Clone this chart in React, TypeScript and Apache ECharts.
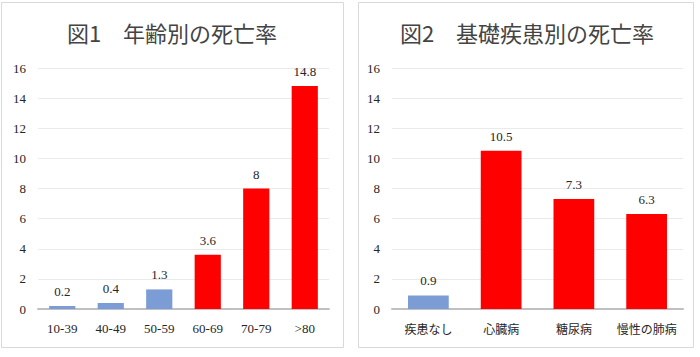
import React, { useEffect, useRef } from "react";
import * as echarts from "echarts";

const ageCategories = ["10-39", "40-49", "50-59", "60-69", "70-79", ">80"];
const ageValues = [0.2, 0.4, 1.3, 3.6, 8, 14.8];
const ageColors = ["#7C9CD5", "#7C9CD5", "#7C9CD5", "#FF0000", "#FF0000", "#FF0000"];

const diseaseCategories = ["疾患なし", "心臓病", "糖尿病", "慢性の肺病"];
const diseaseValues = [0.9, 10.5, 7.3, 6.3];
const diseaseColors = ["#7C9CD5", "#FF0000", "#FF0000", "#FF0000"];

const title1 = "図1　年齢別の死亡率";
const title2 = "図2　基礎疾患別の死亡率";

const SERIF = "Liberation Serif";
const JP = "Noto Sans CJK JP";

export default function App() {
  const ref = useRef<HTMLDivElement>(null);
  useEffect(() => {
    document.body.style.margin = "0";
    const chart = echarts.init(ref.current!, undefined, { renderer: "svg" });
    const yAxisCommon = {
      type: "value" as const,
      min: 0,
      max: 16,
      interval: 2,
      axisLine: { show: false },
      axisTick: { show: false },
      splitLine: { lineStyle: { color: "#EAEAEA", width: 1 } },
      axisLabel: { fontFamily: SERIF, fontSize: 13, color: "#262626", margin: 12 },
    };
    const xAxisCommon = {
      type: "category" as const,
      axisTick: { show: false },
      axisLine: { lineStyle: { color: "#C0C0C0", width: 2 } },
    };
    const labelCommon = {
      show: true,
      position: "top" as const,
      distance: 8,
      fontFamily: SERIF,
      fontSize: 13,
      color: "#262626",
    };
    chart.setOption({
      animation: false,
      graphic: [
        {
          type: "rect",
          shape: { x: 1.5, y: 2.5, width: 342, height: 345 },
          style: { fill: "none", stroke: "#D9D9D9", lineWidth: 1 },
        },
        {
          type: "rect",
          shape: { x: 358.5, y: 2.5, width: 335, height: 345 },
          style: { fill: "none", stroke: "#D9D9D9", lineWidth: 1 },
        },
        {
          type: "text",
          x: 172,
          y: 32,
          style: {
            text: title1,
            fontFamily: JP,
            fontSize: 22,
            fill: "#444444",
            textAlign: "center",
            textVerticalAlign: "middle",
          },
        },
        {
          type: "text",
          x: 527,
          y: 32,
          style: {
            text: title2,
            fontFamily: JP,
            fontSize: 22,
            fill: "#444444",
            textAlign: "center",
            textVerticalAlign: "middle",
          },
        },
      ],
      grid: [
        { left: 38, right: 371, top: 68, bottom: 48 },
        { left: 392, right: 17, top: 68, bottom: 48 },
      ],
      xAxis: [
        {
          ...xAxisCommon,
          gridIndex: 0,
          data: ageCategories,
          axisLabel: { interval: 0, fontFamily: SERIF, fontSize: 13, color: "#262626", margin: 13 },
        },
        {
          ...xAxisCommon,
          gridIndex: 1,
          data: diseaseCategories,
          axisLabel: { interval: 0, fontFamily: JP, fontSize: 12, color: "#262626", margin: 13 },
        },
      ],
      yAxis: [
        { ...yAxisCommon, gridIndex: 0 },
        { ...yAxisCommon, gridIndex: 1 },
      ],
      series: [
        {
          type: "bar",
          xAxisIndex: 0,
          yAxisIndex: 0,
          barWidth: "54%",
          data: ageValues.map((v, i) => ({ value: v, itemStyle: { color: ageColors[i] } })),
          label: labelCommon,
        },
        {
          type: "bar",
          xAxisIndex: 1,
          yAxisIndex: 1,
          barWidth: "56%",
          data: diseaseValues.map((v, i) => ({ value: v, itemStyle: { color: diseaseColors[i] } })),
          label: labelCommon,
        },
      ],
    });
    return () => chart.dispose();
  }, []);
  return (
    <div
      ref={ref}
      style={{ position: "absolute", left: 0, top: 0, width: 700, height: 357, background: "#fff" }}
    />
  );
}
